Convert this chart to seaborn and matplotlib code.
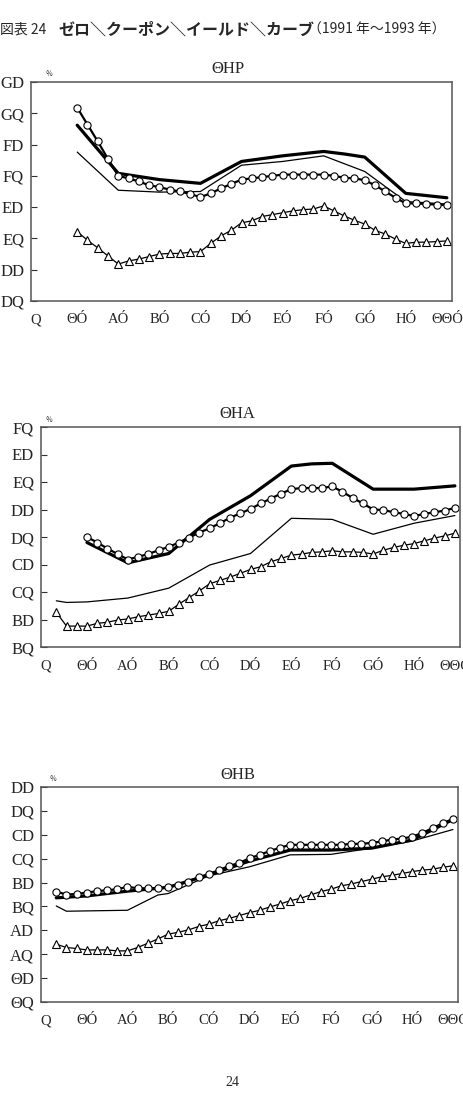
import numpy as np
import pandas as pd
import matplotlib
matplotlib.use("Agg")
import matplotlib.pyplot as plt
import seaborn as sns

sns.set_style("white")
plt.rcParams['font.family'] = ['Liberation Serif', 'DejaVu Serif']

# ---------------- data ----------------
x_tick_labels = ["Q", "ΘÓ", "AÓ", "BÓ", "CÓ", "DÓ", "EÓ", "FÓ", "GÓ", "HÓ", "ΘΘÓ"]

# 1991
t1_title = "ΘHP"
t1_ylabels = ["DQ", "DD", "EQ", "ED", "FQ", "FD", "GQ", "GD"]
t1_circ = [7.09, 6.82, 6.55, 6.27, 6.00, 5.96, 5.91, 5.85, 5.82, 5.78, 5.75, 5.71, 5.66,
           5.72, 5.80, 5.87, 5.94, 5.96, 5.98, 6.00, 6.02, 6.02, 6.02, 6.02, 6.02, 6.00,
           5.97, 5.96, 5.93, 5.85, 5.75, 5.65, 5.56, 5.56, 5.55, 5.54, 5.53]
t1_tri = [5.11, 4.97, 4.85, 4.72, 4.59, 4.64, 4.67, 4.71, 4.75, 4.76, 4.76, 4.78, 4.79,
          4.92, 5.04, 5.13, 5.25, 5.28, 5.35, 5.38, 5.41, 5.44, 5.46, 5.47, 5.52, 5.44,
          5.36, 5.29, 5.23, 5.13, 5.07, 4.99, 4.92, 4.94, 4.94, 4.95, 4.96]
t1_thick_x = [1, 2, 3, 4, 5, 6, 7, 7.5, 8, 9, 10]
t1_thick = [6.81, 6.04, 5.94, 5.88, 6.23, 6.32, 6.39, 6.35, 6.30, 5.72, 5.65]
t1_thin_x = [1, 2, 3, 4, 5, 6, 7, 8, 9, 10]
t1_thin = [6.38, 5.77, 5.74, 5.75, 6.17, 6.23, 6.32, 6.07, 5.59, 5.55]

# 1992
t2_title = "ΘHA"
t2_ylabels = ["BQ", "BD", "CQ", "CD", "DQ", "DD", "EQ", "ED", "FQ"]
t2_circ = [4.00, 3.90, 3.79, 3.69, 3.59, 3.64, 3.69, 3.76, 3.82, 3.90, 3.99, 4.08, 4.16,
           4.25, 4.35, 4.43, 4.51, 4.61, 4.70, 4.79, 4.87, 4.89, 4.89, 4.89, 4.92, 4.82,
           4.71, 4.61, 4.50, 4.49, 4.45, 4.42, 4.38, 4.42, 4.45, 4.48, 4.53]
t2_tri = [2.63, 2.38, 2.38, 2.38, 2.43, 2.45, 2.49, 2.51, 2.55, 2.58, 2.61, 2.65, 2.78,
          2.90, 3.02, 3.15, 3.21, 3.27, 3.34, 3.41, 3.46, 3.55, 3.61, 3.67, 3.69, 3.72,
          3.73, 3.75, 3.73, 3.73, 3.72, 3.69, 3.76, 3.81, 3.85, 3.88, 3.93, 3.98, 4.02, 4.07]
t2_thick_x = [1, 2, 3, 4, 5, 6, 6.5, 7, 8, 9, 10]
t2_thick = [3.90, 3.53, 3.70, 4.32, 4.75, 5.29, 5.33, 5.34, 4.87, 4.87, 4.93]
t2_thin_x = [0.25, 0.5, 1, 2, 3, 4, 5, 6, 7, 8, 9, 10]
t2_thin = [2.84, 2.81, 2.82, 2.89, 3.07, 3.49, 3.70, 4.34, 4.32, 4.05, 4.25, 4.39]

# 1993
t3_title = "ΘHB"
t3_ylabels = ["ΘQ", "ΘD", "AQ", "AD", "BQ", "BD", "CQ", "CD", "DQ", "DD"]
t3_circ = [2.31, 2.25, 2.26, 2.29, 2.32, 2.34, 2.36, 2.41, 2.38, 2.38, 2.38, 2.40, 2.45,
           2.52, 2.61, 2.68, 2.76, 2.85, 2.91, 3.01, 3.08, 3.16, 3.23, 3.29, 3.29, 3.29,
           3.29, 3.29, 3.29, 3.31, 3.31, 3.33, 3.36, 3.40, 3.42, 3.46, 3.54, 3.64, 3.74, 3.83]
t3_tri = [1.21, 1.14, 1.12, 1.09, 1.09, 1.09, 1.07, 1.07, 1.14, 1.23, 1.32, 1.42, 1.46,
          1.51, 1.58, 1.63, 1.70, 1.75, 1.81, 1.87, 1.92, 1.99, 2.05, 2.12, 2.17, 2.24,
          2.31, 2.36, 2.43, 2.47, 2.52, 2.57, 2.62, 2.65, 2.69, 2.73, 2.76, 2.78, 2.82, 2.85]
t3_thick_x = [0.25, 1, 2, 3, 4, 5, 6, 7, 8, 9, 10]
t3_thick = [2.18, 2.22, 2.32, 2.40, 2.66, 2.95, 3.18, 3.18, 3.22, 3.39, 3.82]
t3_thin_x = [0.25, 0.5, 2, 2.75, 3, 4, 5, 6, 7, 8, 9, 10]
t3_thin = [2.01, 1.90, 1.92, 2.24, 2.27, 2.64, 2.83, 3.08, 3.09, 3.22, 3.37, 3.61]

W, H = 463, 1113
fig = plt.figure(figsize=(W / 100, H / 100), dpi=100)


def add_axes(l, r, t, b):
    return fig.add_axes([l / W, 1 - b / H, (r - l) / W, (b - t) / H])


def panel(ax, circ, circ_start, tri, tri_start, thick_x, thick, thin_x, thin,
          ymin, ylabels, title, tx, ty, ux, uy):
    cx = [circ_start + 0.25 * i for i in range(len(circ))]
    tx_ = [tri_start + 0.25 * i for i in range(len(tri))]
    sns.lineplot(x=thin_x, y=thin, ax=ax, color="black", lw=0.9)
    sns.lineplot(x=thick_x, y=thick, ax=ax, color="black", lw=2.3)
    sns.lineplot(x=tx_, y=tri, ax=ax, color="black", lw=0.9, marker="^",
                 markersize=5.3, markerfacecolor="white", markeredgecolor="black",
                 markeredgewidth=0.8)
    sns.lineplot(x=cx, y=circ, ax=ax, color="black", lw=1.6, marker="o",
                 markersize=5.2, markerfacecolor="white", markeredgecolor="black",
                 markeredgewidth=0.8)
    ax.set_xlim(-0.125, 10.125)
    n = len(ylabels)
    ax.set_ylim(ymin, ymin + 0.5 * (n - 1))
    ax.set_yticks([ymin + 0.5 * i for i in range(n)])
    ax.set_yticklabels(ylabels, fontsize=12)
    ax.set_xticks(range(11))
    ax.set_xticklabels(x_tick_labels, fontsize=10.5)
    ax.set_xticks([-0.125 + 0.25 * k for k in range(42)], minor=True)
    ax.tick_params(axis="x", which="major", length=0, pad=9)
    ax.tick_params(axis="x", which="minor", direction="in", length=4, width=0.8,
                   color="#333333")
    ax.tick_params(axis="y", direction="in", length=4, width=0.8, color="#333333",
                   pad=5, left=True)
    for s in ax.spines.values():
        s.set_color("#555555")
        s.set_linewidth(1.1)
    ax.set_xlabel("")
    ax.set_ylabel("")
    fig.text(tx / W, 1 - ty / H, title, ha="center", va="center", fontsize=12)
    fig.text(ux / W, 1 - uy / H, "％", ha="center", va="center", fontsize=5,
             family=["Noto Sans CJK JP", "DejaVu Sans"])


ax1 = add_axes(31, 452, 82, 301)
panel(ax1, t1_circ, 1.0, t1_tri, 1.0, t1_thick_x, t1_thick, t1_thin_x, t1_thin,
      4.0, t1_ylabels, t1_title, 228, 69, 49, 74)

ax2 = add_axes(41, 460, 427, 647)
panel(ax2, t2_circ, 1.0, t2_tri, 0.25, t2_thick_x, t2_thick, t2_thin_x, t2_thin,
      2.0, t2_ylabels, t2_title, 237, 414, 49, 420)

ax3 = add_axes(41, 458, 787, 1002)
panel(ax3, t3_circ, 0.25, t3_tri, 0.25, t3_thick_x, t3_thick, t3_thin_x, t3_thin,
      0.0, t3_ylabels, t3_title, 238, 775, 53, 779)

# header
jp = ["Noto Sans CJK JP", "DejaVu Sans"]
fig.text(0 / W, 1 - 30 / H, "図表 24", ha="left", va="center", fontsize=10, family=jp)
fig.text(58 / W, 1 - 30 / H, "ゼロ＼クーポン＼イールド＼カーブ", ha="left", va="center",
         fontsize=11.5, family=jp, weight="bold")
fig.text(308 / W, 1 - 30 / H, "（1991 年～1993 年）", ha="left", va="center",
         fontsize=10, family=jp)
fig.text(232 / W, 1 - 1083 / H, "24", ha="center", va="center", fontsize=10,
         family=["Liberation Serif", "DejaVu Serif"])

fig.savefig("out.png", dpi=100)
